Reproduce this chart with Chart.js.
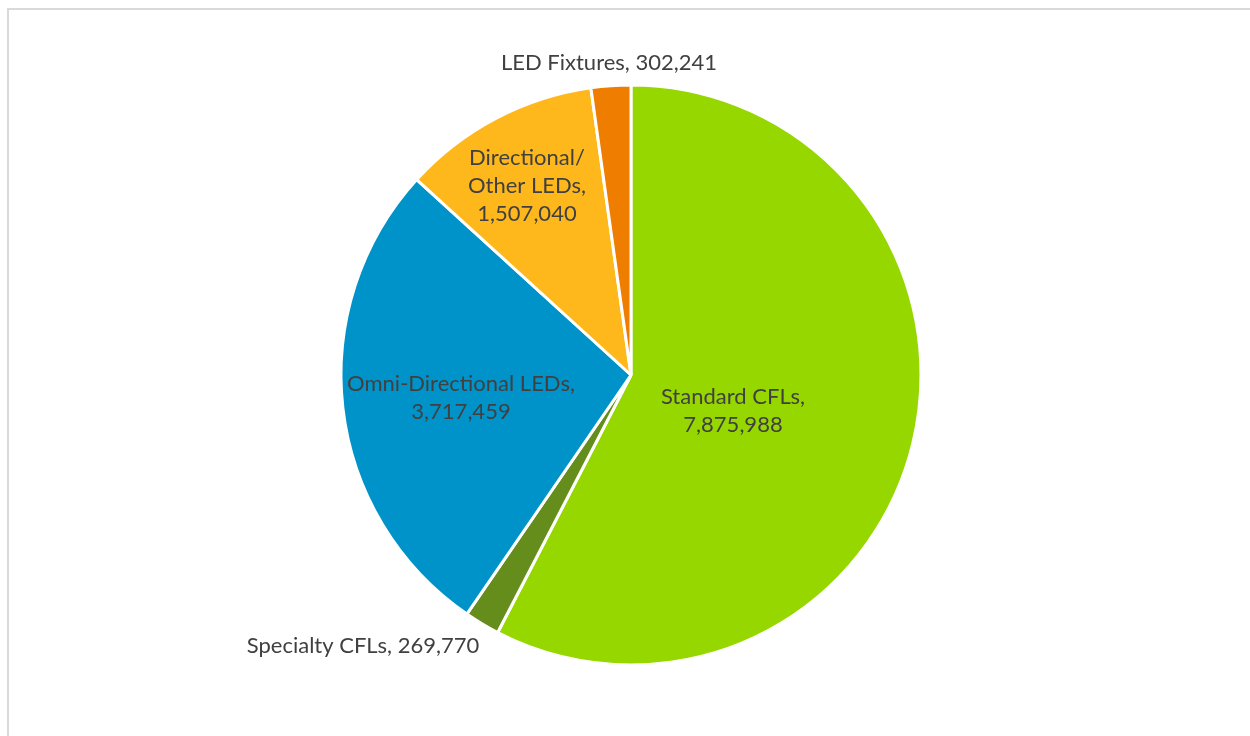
<!DOCTYPE html>
<html>
<head>
<meta charset="utf-8">
<script src="https://cdn.jsdelivr.net/npm/chart.js@4"></script>
<style>
  html, body { margin: 0; padding: 0; background: #fff; overflow: hidden; }
  #frame { position: absolute; left: 7px; top: 8px; width: 1260px; height: 760px; border: 2px solid #d9d9d9; box-sizing: border-box; }
  #wrap { position: absolute; left: 0; top: 0; width: 1250px; height: 736px; }
</style>
</head>
<body>
<div id="frame"></div>
<div id="wrap"><canvas id="pie" width="1250" height="736"></canvas></div>
<script>
// data
const categories = ['Standard CFLs', 'Specialty CFLs', 'Omni-Directional LEDs', 'Directional/ Other LEDs', 'LED Fixtures'];
const units = [7875988, 269770, 3717459, 1507040, 302241];
const colores = ['#97d700', '#658d1b', '#0093c9', '#ffb81c', '#ef7d00'];

// label lines and offset from the pie centre (text only)
const labelLines = [
    ['Standard CFLs,', '7,875,988'],
    ['Specialty CFLs, 269,770'],
    ['Omni-Directional LEDs,', '3,717,459'],
    ['Directional/', 'Other LEDs,', '1,507,040'],
    ['LED Fixtures, 302,241']
];
const labelOffsets = [[102, 36], [-268, 271], [-170, 23], [-104, -189], [-22, -312]];

const fmt = n => n.toLocaleString('en-US');

// dibuja las etiquetas de cada porcion
const labelPlugin = {
    id: 'pieLabels',
    afterDatasetsDraw(chart) {
        const ctx = chart.ctx;
        const arc0 = chart.getDatasetMeta(0).data[0];
        const cx = arc0.x, cy = arc0.y;
        ctx.save();
        ctx.font = '22px Lato';
        ctx.fillStyle = '#404040';
        ctx.textAlign = 'center';
        ctx.textBaseline = 'middle';
        const lh = 28;
        labelLines.forEach((lines, i) => {
            const x = cx + labelOffsets[i][0];
            const y0 = cy + labelOffsets[i][1] - (lines.length - 1) * lh / 2;
            lines.forEach((t, k) => ctx.fillText(t, x, y0 + k * lh));
        });
        ctx.restore();
    }
};

const ctx = document.getElementById('pie').getContext('2d');
new Chart(ctx, {
    type: 'pie',
    data: {
        labels: categories,
        datasets: [{
            data: units,
            backgroundColor: colores,
            borderColor: '#ffffff',
            borderWidth: 3,
            radius: 290
        }]
    },
    options: {
        responsive: false,
        animation: false,
        layout: { padding: { left: 12, right: 0, top: 14, bottom: 0 } },
        plugins: {
            legend: { display: false },
            tooltip: { enabled: false }
        }
    },
    plugins: [labelPlugin]
});
</script>
</body>
</html>
